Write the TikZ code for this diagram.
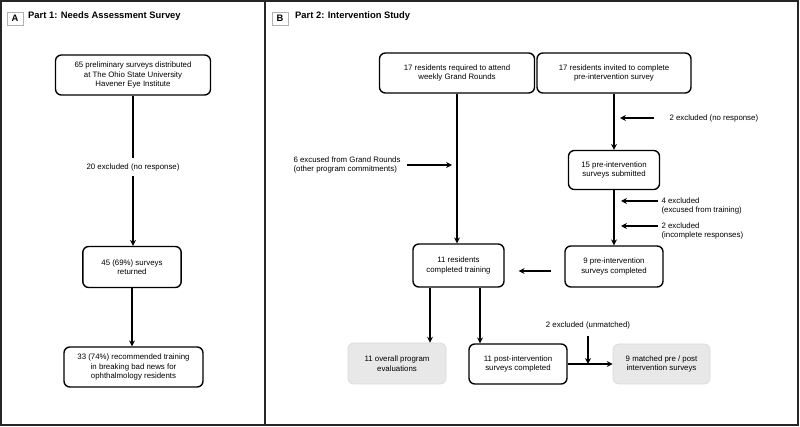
\documentclass[tikz,border=0pt]{standalone}
\usepackage{fontspec}
\setmainfont{Liberation Sans}
\usetikzlibrary{arrows.meta,calc}

\tikzstyle{block}=[rectangle,
    rounded corners=5pt,
    line width=1.2pt,
    draw=black,
    align=center,
    inner sep=1pt,
    font=\fontsize{6.7}{8.1}\selectfont]
\tikzstyle{result}=[block,
    line width=0.6pt,
    draw=gray!30,
    fill=gray!18]
\tikzstyle{note}=[align=left,
    inner sep=2pt,
    font=\fontsize{6.7}{8.1}\selectfont]
\tikzstyle{panel}=[line width=1.6pt, draw=black!85]
\tikzstyle{tag}=[rectangle,
    draw=gray!60,
    line width=0.7pt,
    minimum width=0.48cm,
    minimum height=0.39cm,
    inner sep=0pt,
    font=\fontsize{8}{9}\selectfont\bfseries]
\tikzstyle{heading}=[anchor=west, inner sep=0pt, font=\fontsize{8}{9}\selectfont\bfseries]
\tikzstyle{line}=[line width=1.3pt]
\tikzstyle{arrow}=[line, -{Stealth[length=5pt,width=5pt]}]

\begin{document}
\begin{tikzpicture}[x=0.03cm, y=-0.03cm]
    \useasboundingbox (0,0) rectangle (800,427);
    \draw [panel] (1,1) rectangle (265,425);
    \draw [panel] (265,1) rectangle (798,425);

    % part 1
    \node (tagA) [tag] at (15,18.5) {A};
    \node (headA) [heading] at (28,16) {Part 1: Needs Assessment Survey};
    \node (dist) [block, minimum width=4.65cm, minimum height=1.2cm] at (133,75)
        {65 preliminary surveys distributed\\at The Ohio State University\\Havener Eye Institute};
    \node (noresp) [note, align=center, inner sep=4pt] at (133,167) {20 excluded (no response)};
    \node (ret) [block, minimum width=2.95cm, minimum height=1.23cm] at (132,267)
        {45 (69\%) surveys\\returned};
    \node (recm) [block, minimum width=4.17cm, minimum height=1.2cm] at (133.5,367)
        {33 (74\%) recommended training\\in breaking bad news for\\ophthalmology residents};
    \draw [line] (dist) -- (noresp);
    \draw [arrow] (noresp) -- (noresp |- ret.north);
    \draw [arrow] (ret.south) -- (ret.south |- recm.north);

    % part 2
    \node (tagB) [tag] at (280,18.5) {B};
    \node (headB) [heading] at (295,16) {Part 2: Intervention Study};
    \node (gr) [block, minimum width=4.65cm, minimum height=1.2cm] at (457,73)
        {17 residents required to attend\\weekly Grand Rounds};
    \node (inv) [block, minimum width=4.62cm, minimum height=1.2cm] at (614,73)
        {17 residents invited to complete\\pre-intervention survey};
    \node (sub) [block, minimum width=2.73cm, minimum height=1.17cm] at (614,170)
        {15 pre-intervention\\surveys submitted};
    \node (cmp) [block, minimum width=2.94cm, minimum height=1.23cm] at (614,266.5)
        {9 pre-intervention\\surveys completed};
    \node (trn) [block, minimum width=2.73cm, minimum height=1.29cm] at (458.5,265.5)
        {11 residents\\completed training};
    \node (evl) [result, minimum width=2.94cm, minimum height=1.23cm] at (397,363.5)
        {11 overall program\\evaluations};
    \node (pst) [block, minimum width=2.94cm, minimum height=1.2cm] at (518,364)
        {11 post-intervention\\surveys completed};
    \node (mtc) [result, minimum width=2.91cm, minimum height=1.2cm] at (661.5,364)
        {9 matched pre / post\\intervention surveys};

    \node (exc6) [note, anchor=west] at (291,165)
        {6 excused from Grand Rounds\\(other program commitments)};
    \node (exc2) [note, anchor=west] at (667,118) {2 excluded (no response)};
    \node (exc4) [note, anchor=north west] at (659,195) {4 excluded\\(excused from training)};
    \node (inc2) [note, anchor=north west] at (659,220) {2 excluded\\(incomplete responses)};
    \node (unm2) [note, align=center] at (588,325) {2 excluded (unmatched)};

    \draw [arrow] (gr.south) -- (gr.south |- trn.north);
    \draw [arrow] ($(exc6.east)+(4,0)$) -- ($(gr.south |- exc6.east)+(-5,0)$);
    \draw [arrow] (inv.south) -- (sub.north);
    \draw [arrow] (sub.south) -- (cmp.north);
    \draw [arrow] ($(exc2.west)+(-13,0)$) -- ($(inv.south |- exc2.west)+(6,0)$);
    \draw [arrow] ($(exc4.north west)+(-1,6)$) -- ($(sub.south |- exc4.north west)+(7,6)$);
    \draw [arrow] ($(inc2.north west)+(-1,6)$) -- ($(sub.south |- inc2.north west)+(7,6)$);
    \draw [arrow] ($(cmp.west)+(-13,4.5)$) -- ($(trn.east)+(14,5.5)$);

    \coordinate (tl) at ($(trn.south)+(-28.5,0)$);
    \coordinate (tr) at ($(trn.south)+(21.5,0)$);
    \draw [arrow] (tl) -- (tl |- evl.north);
    \draw [arrow] (tr) -- (tr |- pst.north);
    \draw [arrow] (pst.east) -- (mtc.west);
    \draw [arrow, shorten <=4pt] (unm2.south) -- (unm2.south |- pst.east);
\end{tikzpicture}
\end{document}
